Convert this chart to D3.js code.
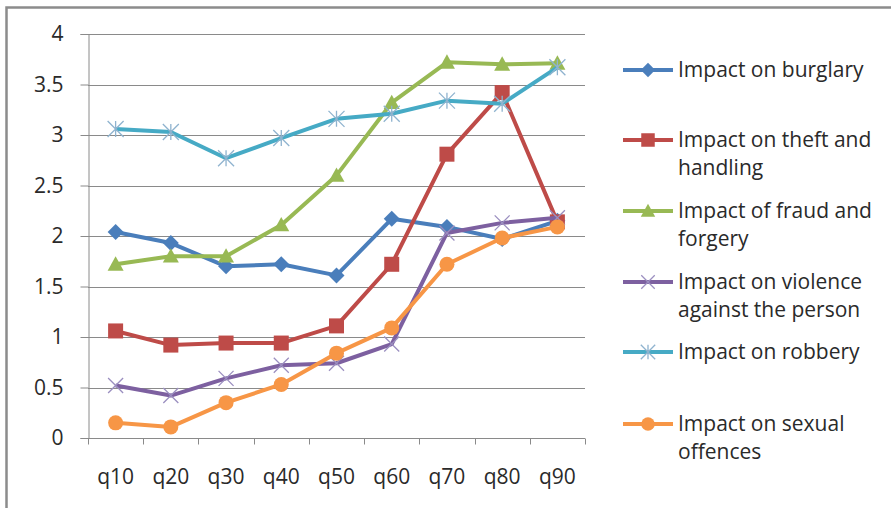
<!DOCTYPE html>
<html>
<head>
<meta charset="utf-8">
<script src="https://cdn.jsdelivr.net/npm/d3@7"></script>
<style>
  html, body { margin: 0; padding: 0; background: #fff; }
  svg { display: block; }
  text { font-family: "Open Sans", Lato, sans-serif; fill: #2a2a2a; }
</style>
</head>
<body>
<svg id="chart" width="891" height="508"></svg>
<script>
// Quantile categories and y-axis ticks
const categories = ["q10", "q20", "q30", "q40", "q50", "q60", "q70", "q80", "q90"];
const yTicks = [0, 0.5, 1, 1.5, 2, 2.5, 3, 3.5, 4];
const yTickLabels = ["0", "0.5", "1", "1.5", "2", "2.5", "3", "3.5", "4"];

// Series values by quantile
const burglary = [2.04, 1.93, 1.70, 1.72, 1.61, 2.17, 2.09, 1.97, 2.15];
const theft    = [1.06, 0.92, 0.94, 0.94, 1.11, 1.72, 2.81, 3.42, 2.14];
const fraud    = [1.72, 1.80, 1.80, 2.11, 2.60, 3.32, 3.72, 3.70, 3.71];
const violence = [0.52, 0.42, 0.59, 0.72, 0.74, 0.93, 2.03, 2.13, 2.18];
const robbery  = [3.06, 3.03, 2.77, 2.97, 3.16, 3.21, 3.34, 3.31, 3.67];
const sexual   = [0.15, 0.11, 0.35, 0.53, 0.84, 1.09, 1.72, 1.98, 2.09];

const seriesNames = [
  ["Impact on burglary"],
  ["Impact on theft and", "handling"],
  ["Impact of fraud and", "forgery"],
  ["Impact on violence", "against the person"],
  ["Impact on robbery"],
  ["Impact on sexual", "offences"]
];
const seriesValues = [burglary, theft, fraud, violence, robbery, sexual];
const seriesColors = ["#4a7ebb", "#be4b48", "#98b954", "#7d60a0", "#46aac5", "#f79646"];
const seriesMarkers = ["diamond", "square", "triangle", "x", "star", "circle"];

const FONT_SIZE = 21;
const svg = d3.select("#chart");

// Outer chart frame (top and left edges visible)
svg.append("path")
  .attr("d", "M6.5,520 L6.5,7.5 L900,7.5")
  .attr("fill", "none").attr("stroke", "#8c8c8c").attr("stroke-width", 2.5);

const plot = { left: 88, right: 585, top: 34, bottom: 438 };

const x = d3.scaleBand().domain(categories).range([plot.left, plot.right]);
const y = d3.scaleLinear().domain([0, 4]).range([plot.bottom, plot.top]);

// Horizontal gridlines
svg.append("g").selectAll("line").data(yTicks.filter(d => d > 0)).join("line")
  .attr("x1", plot.left).attr("x2", plot.right)
  .attr("y1", d => Math.round(y(d)) + 0.5).attr("y2", d => Math.round(y(d)) + 0.5)
  .attr("stroke", "#8a8a8a").attr("stroke-width", 1);

// Y axis
const yAxis = svg.append("g")
  .attr("transform", `translate(${plot.left + 0.5},0)`)
  .call(d3.axisLeft(y).tickValues(yTicks).tickFormat((d, i) => yTickLabels[i]).tickSize(8).tickPadding(17));
yAxis.select(".domain").attr("stroke", "#8a8a8a");
yAxis.selectAll(".tick line").attr("stroke", "#8a8a8a");
yAxis.selectAll(".tick text").attr("font-size", FONT_SIZE).attr("fill", "#2a2a2a")
  .attr("font-family", "'Open Sans', Lato, sans-serif");

// X axis
const xAxisTicks = svg.append("g")
  .attr("transform", `translate(0,${plot.bottom + 0.5})`);
xAxisTicks.append("line")
  .attr("x1", plot.left).attr("x2", plot.right)
  .attr("stroke", "#8a8a8a");
const tickPositions = categories.map(c => x(c)).concat([x(categories[categories.length - 1]) + x.bandwidth()]);
xAxisTicks.selectAll("line.tk").data(tickPositions).join("line").attr("class", "tk")
  .attr("x1", d => Math.round(d) + 0.5).attr("x2", d => Math.round(d) + 0.5)
  .attr("y1", 0).attr("y2", 6).attr("stroke", "#8a8a8a");
xAxisTicks.selectAll("text").data(categories).join("text")
  .attr("x", d => x(d) + x.bandwidth() / 2)
  .attr("y", 45)
  .attr("text-anchor", "middle")
  .attr("font-size", FONT_SIZE)
  .text(d => d);

// Marker drawing
function drawMarker(g, type, color, cx, cy, scale) {
  const s = scale || 1;
  if (type === "diamond") {
    const r = 8 * s;
    g.append("path").attr("d", `M${cx},${cy - r} L${cx + r},${cy} L${cx},${cy + r} L${cx - r},${cy} Z`)
      .attr("fill", color);
  } else if (type === "square") {
    const h = 7.5 * s;
    g.append("rect").attr("x", cx - h).attr("y", cy - h).attr("width", 2 * h).attr("height", 2 * h)
      .attr("fill", color);
  } else if (type === "triangle") {
    const h = 8 * s;
    g.append("path").attr("d", `M${cx},${cy - h} L${cx + h},${cy + h * 0.8} L${cx - h},${cy + h * 0.8} Z`)
      .attr("fill", color);
  } else if (type === "x") {
    const h = 7.5 * s;
    g.append("path").attr("d", `M${cx - h},${cy - h} L${cx + h},${cy + h} M${cx - h},${cy + h} L${cx + h},${cy - h}`)
      .attr("stroke", "#9b8fc0").attr("stroke-width", 1.3).attr("fill", "none");
  } else if (type === "star") {
    const h = 8 * s;
    g.append("path").attr("d", `M${cx - h},${cy - h} L${cx + h},${cy + h} M${cx - h},${cy + h} L${cx + h},${cy - h} M${cx},${cy - h} L${cx},${cy + h}`)
      .attr("stroke", "#8fb3cf").attr("stroke-width", 1.3).attr("fill", "none");
  } else if (type === "circle") {
    g.append("circle").attr("cx", cx).attr("cy", cy).attr("r", 7.5 * s).attr("fill", color);
  }
}

// Series lines and markers
const line = d3.line()
  .x((d, i) => x(categories[i]) + x.bandwidth() / 2)
  .y(d => y(d));

seriesValues.forEach((vals, si) => {
  const g = svg.append("g");
  g.append("path").datum(vals)
    .attr("d", line)
    .attr("fill", "none")
    .attr("stroke", seriesColors[si])
    .attr("stroke-width", 4)
    .attr("stroke-linejoin", "round");
  vals.forEach((v, i) => {
    drawMarker(g, seriesMarkers[si], seriesColors[si], x(categories[i]) + x.bandwidth() / 2, y(v));
  });
});

// Legend
const legendRows = [70, 140, 211, 282, 352, 424];
const legend = svg.append("g");
seriesNames.forEach((lines, si) => {
  const ly = legendRows[si];
  const g = legend.append("g");
  g.append("line").attr("x1", 623).attr("x2", 673).attr("y1", ly).attr("y2", ly)
    .attr("stroke", seriesColors[si]).attr("stroke-width", 4);
  drawMarker(g, seriesMarkers[si], seriesColors[si], 648, ly, 0.9);
  lines.forEach((t, li) => {
    g.append("text")
      .attr("x", 678)
      .attr("y", ly + 7 + li * 28)
      .attr("font-size", FONT_SIZE)
      .text(t);
  });
});
</script>
</body>
</html>
